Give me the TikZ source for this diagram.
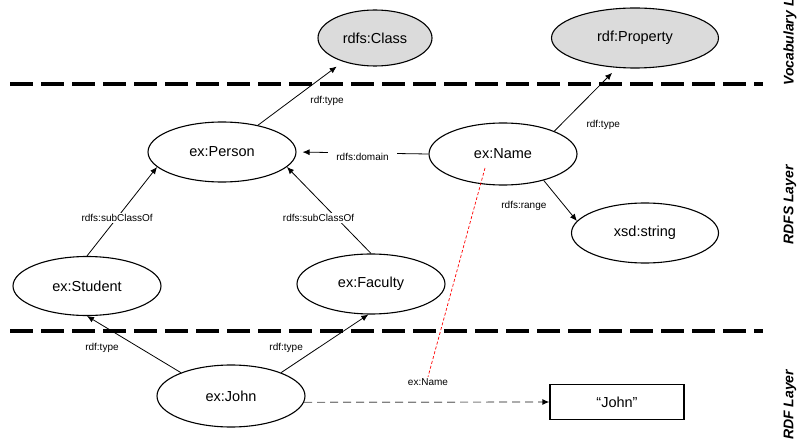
\documentclass[tikz,border=0pt]{standalone}
\usepackage{fontspec}
\setmainfont{Liberation Sans}
\usetikzlibrary{shapes.geometric, arrows.meta}
\tikzstyle{res}=[shape=ellipse, draw, line width=1.1pt, minimum width=148pt, minimum height=61pt, inner sep=0, font=\fontsize{14.5}{16}\selectfont]
\tikzstyle{vocab}=[res, fill=black!14]
\tikzstyle{literal}=[draw, line width=1.1pt, minimum width=134pt, minimum height=35pt, inner sep=0, font=\fontsize{14.5}{16}\selectfont]
\tikzstyle{rel}=[line width=.8pt, -{Latex[length=7pt, width=6pt]}]
\tikzstyle{lbl}=[font=\fontsize{10}{12}\selectfont, inner sep=1.5pt]
\tikzstyle{layerline}=[line width=3.5pt, dash pattern=on 22.7pt off 8.3pt]
\tikzstyle{layer}=[rotate=90, inner sep=0, font=\bfseries\itshape\fontsize{14}{16}\selectfont]

\begin{document}
\begin{tikzpicture}[x=1pt, y=-1pt]
\useasboundingbox (0,0) rectangle (803,441);
% layers
\draw[layerline] (10,84) -- (763,84);
\draw[layerline] (10,331) -- (763,331);
\node[layer, anchor=west] (voclayer) at (790,86) {Vocabulary Layer};
\node[layer] (rdfslayer) at (790,205) {RDFS Layer};
\node[layer, anchor=west] (rdflayer) at (790,440) {RDF Layer};
% resources
\node[vocab, minimum width=114pt, minimum height=56pt] (cls) at (375,38) {rdfs:Class};
\node[vocab, minimum width=167pt, minimum height=60pt] (prop) at (635,38) {rdf:Property};
\node[res, minimum height=60pt] (person) at (222,152) {ex:Person};
\node[res, minimum height=62pt] (name) at (503,154) {ex:Name};
\node[res, minimum width=147pt, minimum height=60pt] (xsd) at (645,233) {xsd:string};
\node[res, minimum height=59pt] (student) at (87,286) {ex:Student};
\node[res, minimum height=60pt] (faculty) at (371,284) {ex:Faculty};
\node[res, minimum height=62pt] (john) at (231,396) {ex:John};
\node[literal] (str) at (617,402) {“John”};
\coordinate (namept) at (485,168);
% edges
\draw[rel, shorten >=8pt] (person) -- node[lbl, right=8pt, yshift=-7pt]{rdf:type} (cls);
\draw[rel, shorten >=7pt] (name.24) -- node[lbl, pos=.1, right=24pt]{rdf:type} (prop.239);
\draw[rel, shorten >=6pt] (name.west) -- node[lbl, fill=white, inner xsep=8pt, yshift=-4pt]{rdfs:domain} (person.east);
\draw[rel] (name.327) -- node[lbl, pos=.62, left=16pt]{rdfs:range} (xsd.170);
\draw[rel] (student.north) -- node[lbl, pos=.43, fill=white]{rdfs:subClassOf} (person.193);
\draw[rel] (faculty.north) -- node[lbl, pos=.41, fill=white, xshift=-18pt]{rdfs:subClassOf} (person.347);
\draw[rel] (john.155) -- node[lbl, pos=.43, left=20pt]{rdf:type} (student.south);
\draw[rel] (john.25) -- node[lbl, pos=.42, left=13pt]{rdf:type} (faculty.265);
\draw[line width=1.2pt, gray, dash pattern=on 8pt off 5pt, -{Latex[length=7pt, width=6pt, black]}] (john.-5) -- (str.west);
\node[lbl] (namelbl) at (428,382) {ex:Name};
\draw[red, line width=.7pt, dash pattern=on 3pt off 2pt] (namept) -- (namelbl.north);
\end{tikzpicture}
\end{document}
